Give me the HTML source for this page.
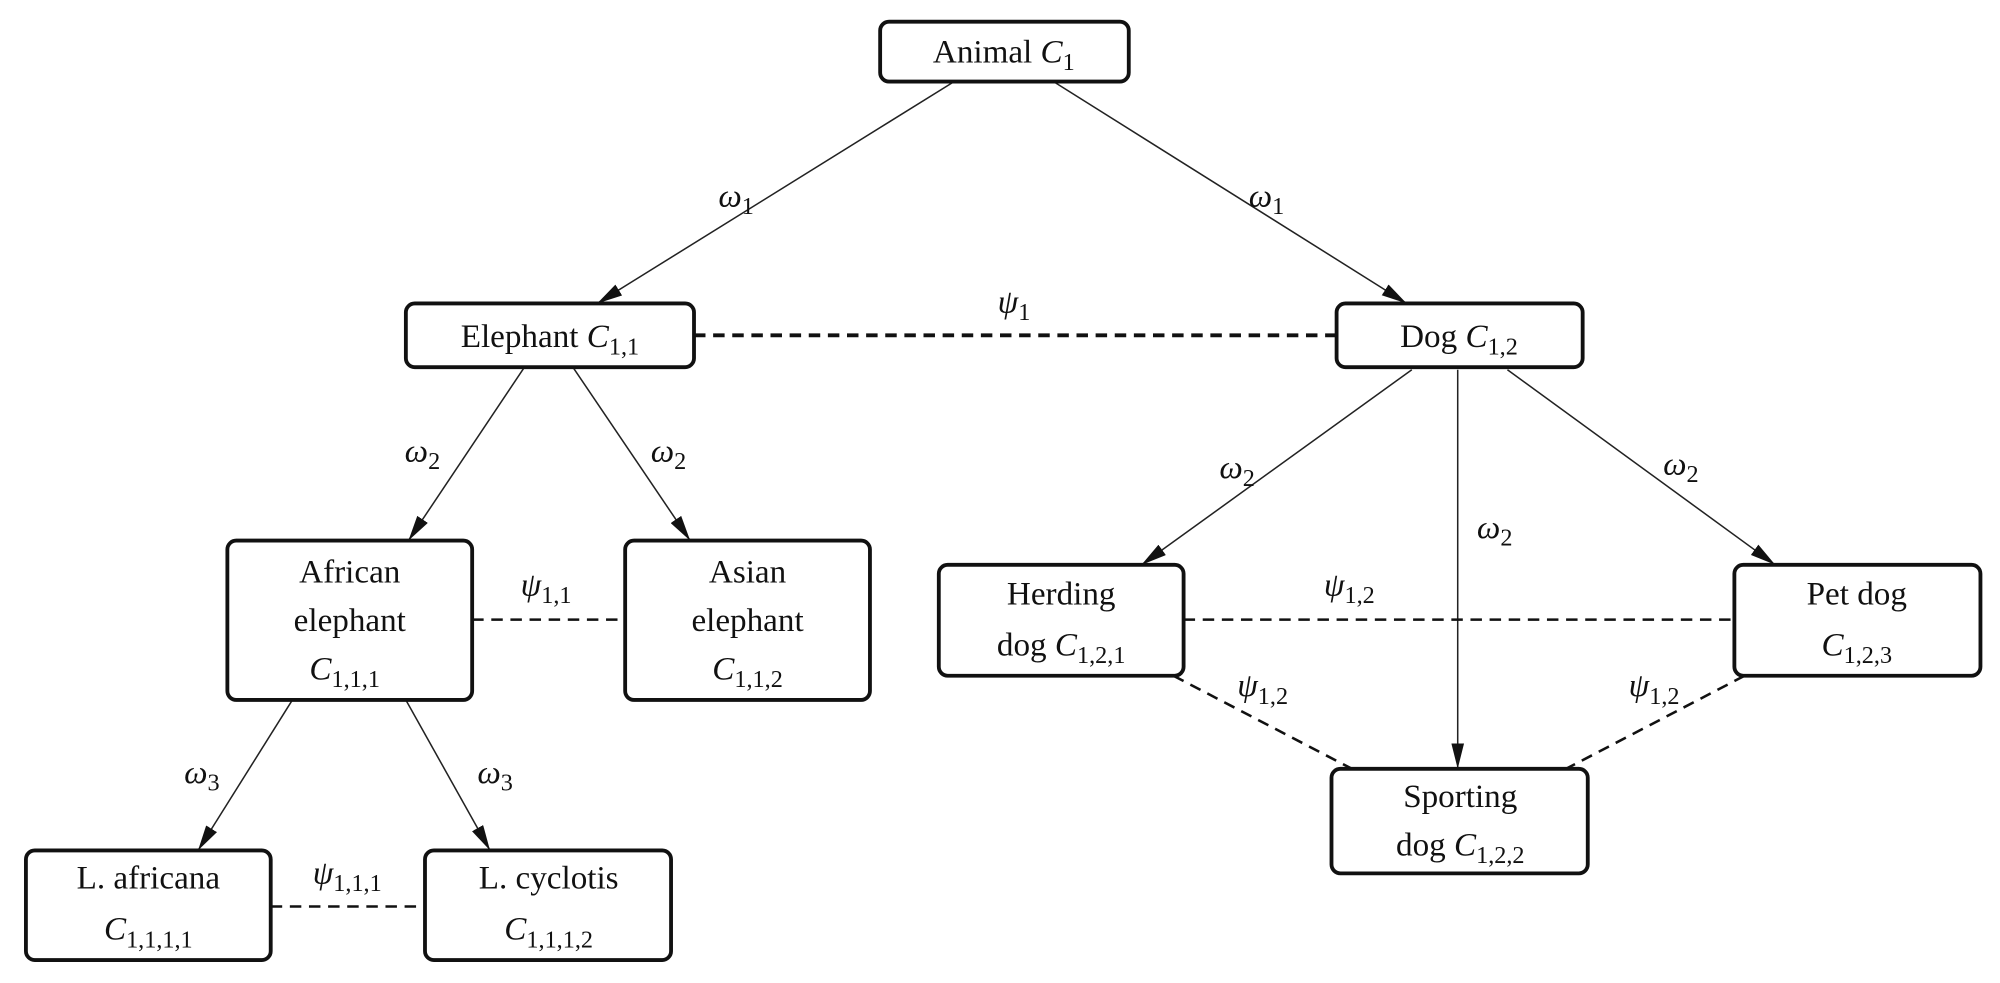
<!DOCTYPE html>
<html><head><meta charset="utf-8"><style>
html,body{margin:0;padding:0;background:#fff;}
svg{display:block;}
text{font-family:"Liberation Serif",serif;font-size:26px;fill:#111;text-anchor:middle;}
.m{font-style:italic;}
.s{font-size:19px;font-style:normal;}
</style></head><body>
<svg width="2000" height="983" viewBox="0 0 1568 771" xmlns="http://www.w3.org/2000/svg">
<defs>
<marker id="a" viewBox="0 0 20 10" refX="20" refY="5" markerWidth="20" markerHeight="10" markerUnits="userSpaceOnUse" orient="auto">
<path d="M0,0 L20,5 L0,10 Z" fill="#111"/></marker>
</defs>
<g fill="none" stroke="#222" stroke-width="1.2">
<line x1="748" y1="64" x2="468" y2="238" marker-end="url(#a)"/>
<line x1="826" y1="64" x2="1103" y2="238" marker-end="url(#a)"/>
<line x1="411" y1="288" x2="320" y2="424" marker-end="url(#a)"/>
<line x1="449" y1="288" x2="541" y2="424" marker-end="url(#a)"/>
<line x1="1107" y1="290" x2="895" y2="443" marker-end="url(#a)"/>
<line x1="1143" y1="290" x2="1143" y2="603" marker-end="url(#a)"/>
<line x1="1182" y1="290" x2="1392" y2="443" marker-end="url(#a)"/>
<line x1="229" y1="549" x2="155" y2="667" marker-end="url(#a)"/>
<line x1="318" y1="549" x2="384" y2="667" marker-end="url(#a)"/>
</g>
<g fill="none" stroke="#111" stroke-dasharray="9,6">
<line x1="544" y1="263" x2="1048" y2="263" stroke-width="3"/>
<line x1="370" y1="486" x2="490" y2="486" stroke-width="2"/>
<line x1="928" y1="486" x2="1360" y2="486" stroke-width="2"/>
<line x1="920" y1="530" x2="1060" y2="603" stroke-width="2"/>
<line x1="1368" y1="530" x2="1228" y2="603" stroke-width="2"/>
<line x1="212" y1="711" x2="333" y2="711" stroke-width="2"/>
</g>
<g fill="#fff" stroke="#111" stroke-width="3">
<rect x="690" y="17" width="195" height="47" rx="7"/>
<rect x="318" y="238" width="226" height="50" rx="7"/>
<rect x="1048" y="238" width="193" height="50" rx="7"/>
<rect x="178" y="424" width="192" height="125" rx="7"/>
<rect x="490" y="424" width="192" height="125" rx="7"/>
<rect x="736" y="443" width="192" height="87" rx="7"/>
<rect x="1360" y="443" width="193" height="87" rx="7"/>
<rect x="1044" y="603" width="201" height="82" rx="7"/>
<rect x="20" y="667" width="192" height="86" rx="7"/>
<rect x="333" y="667" width="193" height="86" rx="7"/>
</g>
<text x="787" y="49">Animal <tspan class="m">C</tspan><tspan class="s" dy="6">1</tspan></text>
<text x="431" y="272">Elephant <tspan class="m">C</tspan><tspan class="s" dy="6">1,1</tspan></text>
<text x="1144" y="272">Dog <tspan class="m">C</tspan><tspan class="s" dy="6">1,2</tspan></text>
<text x="274" y="457">African</text>
<text x="274" y="495">elephant</text>
<text x="270" y="533"><tspan class="m">C</tspan><tspan class="s" dy="6">1,1,1</tspan></text>
<text x="586" y="457">Asian</text>
<text x="586" y="495">elephant</text>
<text x="586" y="533"><tspan class="m">C</tspan><tspan class="s" dy="6">1,1,2</tspan></text>
<text x="832" y="474">Herding</text>
<text x="832" y="514">dog <tspan class="m">C</tspan><tspan class="s" dy="6">1,2,1</tspan></text>
<text x="1456" y="474">Pet dog</text>
<text x="1456" y="514"><tspan class="m">C</tspan><tspan class="s" dy="6">1,2,3</tspan></text>
<text x="1145" y="633">Sporting</text>
<text x="1145" y="671">dog <tspan class="m">C</tspan><tspan class="s" dy="6">1,2,2</tspan></text>
<text x="116" y="697">L. africana</text>
<text x="116" y="737"><tspan class="m">C</tspan><tspan class="s" dy="6">1,1,1,1</tspan></text>
<text x="430" y="697">L. cyclotis</text>
<text x="430" y="737"><tspan class="m">C</tspan><tspan class="s" dy="6">1,1,1,2</tspan></text>
<g>
<text x="577" y="162"><tspan class="m">ω</tspan><tspan class="s" dy="6">1</tspan></text>
<text x="993" y="162"><tspan class="m">ω</tspan><tspan class="s" dy="6">1</tspan></text>
<text x="795" y="245"><tspan class="m">ψ</tspan><tspan class="s" dy="6">1</tspan></text>
<text x="331" y="362"><tspan class="m">ω</tspan><tspan class="s" dy="6">2</tspan></text>
<text x="524" y="362"><tspan class="m">ω</tspan><tspan class="s" dy="6">2</tspan></text>
<text x="970" y="375"><tspan class="m">ω</tspan><tspan class="s" dy="6">2</tspan></text>
<text x="1172" y="422"><tspan class="m">ω</tspan><tspan class="s" dy="6">2</tspan></text>
<text x="1318" y="372"><tspan class="m">ω</tspan><tspan class="s" dy="6">2</tspan></text>
<text x="428" y="467"><tspan class="m">ψ</tspan><tspan class="s" dy="6">1,1</tspan></text>
<text x="1058" y="467"><tspan class="m">ψ</tspan><tspan class="s" dy="6">1,2</tspan></text>
<text x="990" y="546"><tspan class="m">ψ</tspan><tspan class="s" dy="6">1,2</tspan></text>
<text x="1297" y="546"><tspan class="m">ψ</tspan><tspan class="s" dy="6">1,2</tspan></text>
<text x="158" y="614"><tspan class="m">ω</tspan><tspan class="s" dy="6">3</tspan></text>
<text x="388" y="614"><tspan class="m">ω</tspan><tspan class="s" dy="6">3</tspan></text>
<text x="272" y="693"><tspan class="m">ψ</tspan><tspan class="s" dy="6">1,1,1</tspan></text>
</g>
</svg>
</body></html>
